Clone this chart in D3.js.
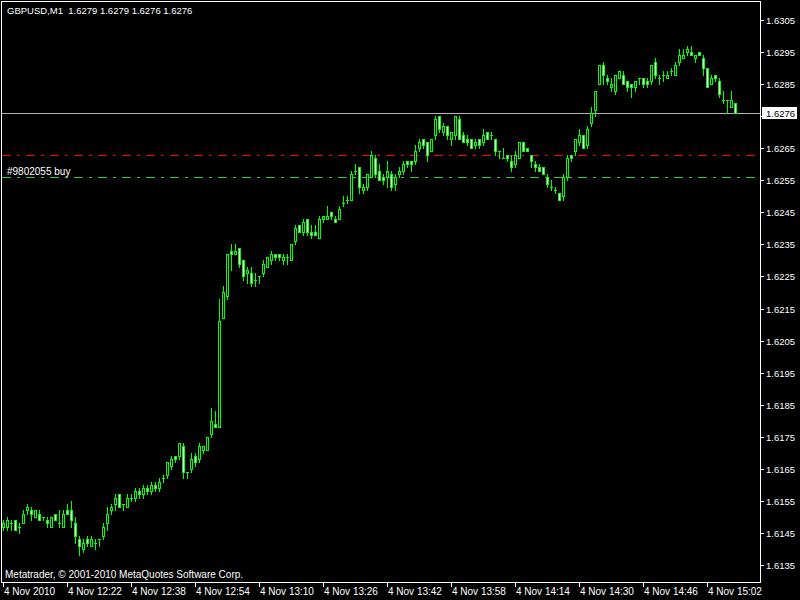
<!DOCTYPE html>
<html><head><meta charset="utf-8">
<script src="https://cdn.jsdelivr.net/npm/d3@7"></script>
<style>
body{margin:0;background:#000;}
svg{display:block;}
text{font-family:"Liberation Sans",Arial,sans-serif;fill:#fff;}
</style>
</head><body>
<svg id="c" width="800" height="600"></svg>
<script>
const symbol = "GBPUSD,M1";
const opens = [1.6147,1.6147,1.6148,1.6149,1.6147,1.6148,1.6152,1.6152,1.6150,1.6151,1.6150,1.6149,1.6147,1.6151,1.6148,1.6147,1.6152,1.6152,1.6148,1.6143,1.6140,1.6143,1.6141,1.6142,1.6143,1.6144,1.6148,1.6152,1.6154,1.6157,1.6154,1.6153,1.6156,1.6156,1.6158,1.6157,1.6159,1.6158,1.6160,1.6159,1.6162,1.6163,1.6166,1.6169,1.6169,1.6172,1.6164,1.6165,1.6169,1.6168,1.6171,1.6171,1.6176,1.6179,1.6178,1.6212,1.6219,1.6233,1.6232,1.6234,1.6230,1.6226,1.6226,1.6224,1.6225,1.6226,1.6228,1.6230,1.6232,1.6232,1.6230,1.6231,1.6230,1.6236,1.6241,1.6239,1.6243,1.6239,1.6239,1.6237,1.6243,1.6243,1.6245,1.6243,1.6243,1.6248,1.6249,1.6249,1.6258,1.6259,1.6252,1.6253,1.6256,1.6262,1.6258,1.6256,1.6256,1.6257,1.6254,1.6257,1.6258,1.6261,1.6261,1.6261,1.6265,1.6268,1.6267,1.6264,1.6269,1.6275,1.6270,1.6272,1.6268,1.6269,1.6274,1.6269,1.6268,1.6268,1.6266,1.6268,1.6267,1.6270,1.6269,1.6268,1.6264,1.6262,1.6263,1.6261,1.6260,1.6262,1.6267,1.6265,1.6263,1.6260,1.6259,1.6259,1.6256,1.6253,1.6252,1.6251,1.6250,1.6256,1.6263,1.6264,1.6267,1.6269,1.6266,1.6273,1.6277,1.6285,1.6291,1.6287,1.6284,1.6283,1.6287,1.6288,1.6286,1.6285,1.6284,1.6287,1.6287,1.6286,1.6286,1.6292,1.6287,1.6288,1.6287,1.6289,1.6288,1.6292,1.6293,1.6295,1.6295,1.6293,1.6295,1.6293,1.6290,1.6285,1.6288,1.6286,1.6280,1.6280,1.6278,1.6279];
const highs = [1.6149,1.6150,1.6149,1.6149,1.6148,1.6152,1.6154,1.6153,1.6152,1.6152,1.6150,1.6150,1.6150,1.6151,1.6152,1.6152,1.6154,1.6155,1.6150,1.6144,1.6143,1.6144,1.6144,1.6143,1.6143,1.6148,1.6153,1.6154,1.6157,1.6157,1.6154,1.6157,1.6157,1.6159,1.6159,1.6160,1.6160,1.6161,1.6161,1.6162,1.6163,1.6167,1.6169,1.6169,1.6173,1.6173,1.6164,1.6170,1.6170,1.6173,1.6172,1.6175,1.6184,1.6183,1.6218,1.6222,1.6232,1.6235,1.6235,1.6234,1.6230,1.6228,1.6228,1.6226,1.6225,1.6230,1.6231,1.6233,1.6232,1.6232,1.6232,1.6232,1.6235,1.6241,1.6241,1.6243,1.6243,1.6241,1.6241,1.6244,1.6244,1.6247,1.6245,1.6244,1.6247,1.6250,1.6250,1.6258,1.6260,1.6259,1.6254,1.6257,1.6264,1.6263,1.6260,1.6257,1.6261,1.6258,1.6257,1.6259,1.6261,1.6261,1.6261,1.6266,1.6268,1.6268,1.6267,1.6268,1.6275,1.6275,1.6273,1.6272,1.6270,1.6275,1.6275,1.6270,1.6269,1.6268,1.6268,1.6268,1.6271,1.6270,1.6270,1.6268,1.6264,1.6265,1.6263,1.6263,1.6264,1.6267,1.6267,1.6265,1.6263,1.6261,1.6260,1.6259,1.6257,1.6255,1.6253,1.6251,1.6257,1.6263,1.6263,1.6268,1.6271,1.6269,1.6272,1.6278,1.6283,1.6291,1.6292,1.6288,1.6287,1.6288,1.6289,1.6289,1.6286,1.6285,1.6286,1.6287,1.6287,1.6287,1.6291,1.6293,1.6288,1.6289,1.6289,1.6290,1.6292,1.6296,1.6296,1.6297,1.6297,1.6294,1.6295,1.6294,1.6290,1.6288,1.6288,1.6287,1.6283,1.6280,1.6283,1.6279];
const lows = [1.6146,1.6146,1.6146,1.6146,1.6145,1.6148,1.6151,1.6149,1.6150,1.6149,1.6149,1.6147,1.6147,1.6149,1.6147,1.6147,1.6151,1.6147,1.6142,1.6138,1.6139,1.6141,1.6141,1.6140,1.6141,1.6143,1.6146,1.6151,1.6152,1.6153,1.6152,1.6153,1.6155,1.6155,1.6156,1.6156,1.6157,1.6157,1.6158,1.6158,1.6161,1.6162,1.6165,1.6167,1.6168,1.6162,1.6162,1.6164,1.6166,1.6167,1.6170,1.6171,1.6175,1.6178,1.6178,1.6212,1.6218,1.6227,1.6232,1.6228,1.6224,1.6223,1.6222,1.6222,1.6223,1.6225,1.6228,1.6229,1.6230,1.6230,1.6229,1.6229,1.6230,1.6235,1.6239,1.6238,1.6238,1.6237,1.6238,1.6237,1.6242,1.6243,1.6243,1.6242,1.6243,1.6247,1.6248,1.6249,1.6257,1.6251,1.6251,1.6252,1.6256,1.6256,1.6255,1.6254,1.6253,1.6252,1.6252,1.6256,1.6257,1.6259,1.6258,1.6260,1.6264,1.6265,1.6261,1.6264,1.6268,1.6270,1.6269,1.6268,1.6266,1.6268,1.6268,1.6267,1.6266,1.6265,1.6265,1.6265,1.6266,1.6268,1.6268,1.6263,1.6262,1.6262,1.6261,1.6258,1.6259,1.6262,1.6264,1.6264,1.6259,1.6258,1.6258,1.6257,1.6253,1.6252,1.6251,1.6249,1.6249,1.6255,1.6261,1.6263,1.6266,1.6265,1.6265,1.6272,1.6275,1.6285,1.6285,1.6285,1.6283,1.6282,1.6287,1.6285,1.6283,1.6281,1.6283,1.6285,1.6284,1.6284,1.6285,1.6287,1.6285,1.6286,1.6287,1.6288,1.6288,1.6291,1.6293,1.6294,1.6294,1.6292,1.6294,1.6288,1.6284,1.6285,1.6286,1.6281,1.6279,1.6276,1.6278,1.6276];
const closes = [1.6148,1.6149,1.6148,1.6146,1.6147,1.6151,1.6153,1.6151,1.6152,1.6149,1.6150,1.6148,1.6150,1.6149,1.6148,1.6151,1.6151,1.6149,1.6144,1.6141,1.6142,1.6142,1.6143,1.6142,1.6143,1.6147,1.6151,1.6153,1.6156,1.6153,1.6154,1.6156,1.6156,1.6158,1.6157,1.6159,1.6158,1.6160,1.6159,1.6161,1.6162,1.6167,1.6168,1.6168,1.6173,1.6164,1.6164,1.6168,1.6167,1.6172,1.6172,1.6175,1.6180,1.6178,1.6211,1.6220,1.6232,1.6232,1.6233,1.6229,1.6225,1.6227,1.6223,1.6224,1.6225,1.6229,1.6231,1.6232,1.6231,1.6231,1.6231,1.6231,1.6235,1.6240,1.6239,1.6242,1.6239,1.6238,1.6238,1.6243,1.6244,1.6244,1.6244,1.6242,1.6246,1.6248,1.6249,1.6257,1.6258,1.6253,1.6253,1.6257,1.6263,1.6257,1.6255,1.6255,1.6258,1.6253,1.6256,1.6258,1.6260,1.6260,1.6260,1.6264,1.6267,1.6266,1.6263,1.6268,1.6274,1.6271,1.6272,1.6269,1.6270,1.6275,1.6268,1.6267,1.6267,1.6265,1.6267,1.6266,1.6269,1.6268,1.6269,1.6264,1.6264,1.6262,1.6262,1.6259,1.6263,1.6267,1.6264,1.6264,1.6261,1.6259,1.6258,1.6257,1.6254,1.6253,1.6252,1.6249,1.6256,1.6262,1.6262,1.6268,1.6269,1.6265,1.6271,1.6276,1.6283,1.6291,1.6288,1.6286,1.6285,1.6288,1.6289,1.6285,1.6284,1.6284,1.6286,1.6287,1.6285,1.6285,1.6291,1.6288,1.6287,1.6288,1.6288,1.6289,1.6291,1.6294,1.6294,1.6296,1.6294,1.6294,1.6294,1.6290,1.6284,1.6287,1.6287,1.6282,1.6280,1.6280,1.6280,1.6276];
const timeLabels = ["4 Nov 2010","4 Nov 12:22","4 Nov 12:38","4 Nov 12:54","4 Nov 13:10","4 Nov 13:26","4 Nov 13:42","4 Nov 13:58","4 Nov 14:14","4 Nov 14:30","4 Nov 14:46","4 Nov 15:02"];
const timeLabelIndex = [0,16,32,48,64,80,96,112,128,144,160,176];
const priceTicks = [1.6135,1.6145,1.6155,1.6165,1.6175,1.6185,1.6195,1.6205,1.6215,1.6225,1.6235,1.6245,1.6255,1.6265,1.6275,1.6285,1.6295,1.6305];
const bidPrice = 1.6276;
const stopLevel = 1.6263;
const orderLevel = 1.6256;
const orderLabel = "#9802055 buy";
const copyright = "Metatrader, \u00a9 2001-2010 MetaQuotes Software Corp.";

const svg = d3.select("#c");
svg.append("rect").attr("width",800).attr("height",600).attr("fill","#000");

const x = d3.scaleLinear().domain([0, 183]).range([3, 735]);
const y = d3.scaleLinear().domain([1.6135, 1.6305]).range([565, 20]);
const Y = v => Math.round(y(v));

const lines = svg.append("g").attr("shape-rendering","crispEdges");
// stop / order lines
lines.append("line").attr("x1",2).attr("x2",760).attr("y1",Y(stopLevel)+0.5).attr("y2",Y(stopLevel)+0.5)
  .style("stroke","#ff0000").style("stroke-width","1px").style("stroke-dasharray","9,6,3,6");
lines.append("line").attr("x1",2).attr("x2",760).attr("y1",Y(orderLevel)+0.5).attr("y2",Y(orderLevel)+0.5)
  .style("stroke","#32cd32").style("stroke-width","1px").style("stroke-dasharray","9,6,3,6");
// bid line
lines.append("line").attr("x1",2).attr("x2",760).attr("y1",Y(bidPrice)+0.5).attr("y2",Y(bidPrice)+0.5)
  .style("stroke","#b4b4b4").style("stroke-width","1px");
svg.append("text").attr("x",7).attr("y",Y(orderLevel)-2).attr("font-size","10px").text(orderLabel);

// candles
const idx = d3.range(opens.length);
const g = svg.append("g").attr("shape-rendering","crispEdges");
g.selectAll(".wick").data(idx).join("rect").attr("class","wick")
  .attr("x", i => Math.round(x(i))).attr("y", i => Y(highs[i]))
  .attr("width",1).attr("height", i => Y(lows[i]) - Y(highs[i]) + 1).attr("fill","#00ff00");
g.selectAll(".body").data(idx).join("rect").attr("class","body")
  .attr("x", i => Math.round(x(i)) - 1).attr("y", i => Y(Math.max(opens[i],closes[i])))
  .attr("width",3).attr("height", i => Y(Math.min(opens[i],closes[i])) - Y(Math.max(opens[i],closes[i])) + 1)
  .attr("fill","#00ff00");
g.selectAll(".inner").data(idx.filter(i => Y(Math.min(opens[i],closes[i])) - Y(Math.max(opens[i],closes[i])) >= 2))
  .join("rect").attr("class","inner")
  .attr("x", i => Math.round(x(i))).attr("y", i => Y(Math.max(opens[i],closes[i])) + 1)
  .attr("width",1).attr("height", i => Y(Math.min(opens[i],closes[i])) - Y(Math.max(opens[i],closes[i])) - 1)
  .attr("fill", i => closes[i] < opens[i] ? "#ffffff" : "#000000");

// frame
svg.append("rect").attr("x",1.5).attr("y",1.5).attr("width",759).attr("height",581)
  .attr("fill","none").attr("stroke","#ffffff").attr("shape-rendering","crispEdges");

// price axis
const ya = svg.append("g").attr("shape-rendering","crispEdges");
ya.selectAll("line").data(priceTicks).join("line")
  .attr("x1",761).attr("x2",764).attr("y1",d => Y(d)+0.5).attr("y2",d => Y(d)+0.5).attr("stroke","#fff");
// labels hidden behind the bid price box are not drawn
svg.append("g").selectAll("text").data(priceTicks.filter(d => Math.abs(Y(d) - Y(bidPrice)) > 9)).join("text")
  .attr("x",766).attr("y",d => Y(d)+4).attr("font-size","9.5px").text(d => d.toFixed(4));

// bid label
svg.append("rect").attr("x",762).attr("y",Y(bidPrice)-6).attr("width",35).attr("height",12).attr("fill","#fff");
svg.append("text").attr("x",766).attr("y",Y(bidPrice)+4).attr("font-size","9.5px").style("fill","#000").text(bidPrice.toFixed(4));

// time axis
const xa = svg.append("g").attr("shape-rendering","crispEdges");
xa.selectAll("line").data(timeLabelIndex).join("line")
  .attr("x1",d => Math.round(x(d))+0.5).attr("x2",d => Math.round(x(d))+0.5).attr("y1",583).attr("y2",587).attr("stroke","#fff");
svg.append("g").selectAll("text").data(timeLabelIndex).join("text")
  .attr("x",d => Math.round(x(d))+1).attr("y",595).attr("font-size","10px").text((d,k) => timeLabels[k]);

// header and copyright
svg.append("text").attr("x",7).attr("y",14).attr("font-size","9.5px").attr("xml:space","preserve")
  .text(symbol + "  " + [opens[183],highs[183],lows[183],closes[183]].map(v => v.toFixed(4)).join(" "));
svg.append("text").attr("x",5).attr("y",578).attr("font-size","10px").text(copyright);
</script>
</body></html>
